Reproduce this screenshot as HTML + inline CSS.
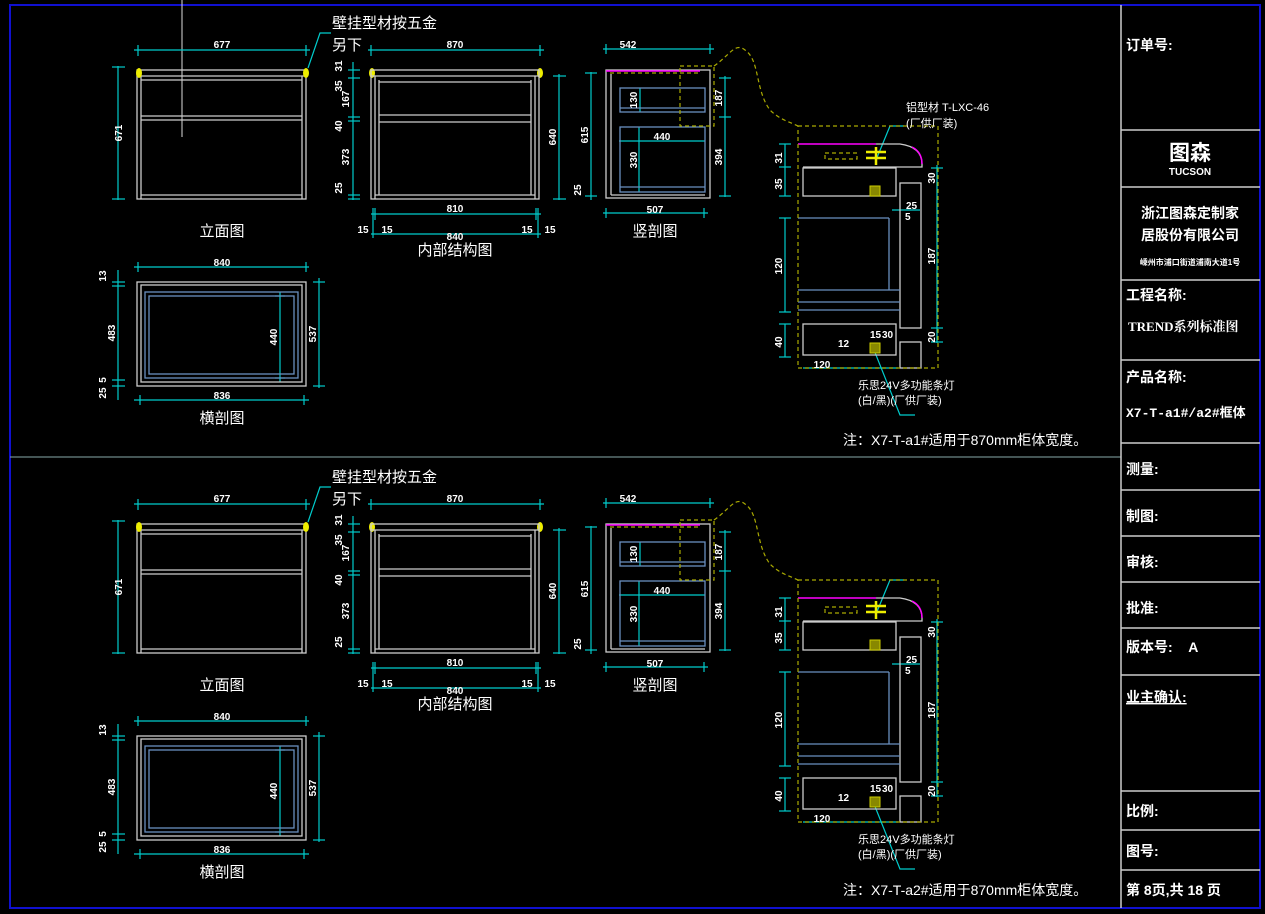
<!DOCTYPE html>
<html><head><meta charset="utf-8"><style>
html,body{margin:0;padding:0;background:#000;width:1265px;height:914px;overflow:hidden}
svg{display:block}
text{font-family:"Liberation Sans","Noto Sans CJK SC",sans-serif;fill:#fff}
.d{font-size:10px;font-weight:bold}
.t{font-size:15px}
.tb{font-size:14px;font-weight:bold}
</style></head><body>
<svg width="1265" height="914" viewBox="0 0 1265 914" xmlns="http://www.w3.org/2000/svg">
<rect x="10" y="5" width="1250" height="903" fill="none" stroke="#1010d0" stroke-width="2"/>
<line x1="182" y1="0" x2="182" y2="137" stroke="#ddd"/>
<line x1="10" y1="457" x2="1121" y2="457" stroke="#8aa"/>
<!-- title block -->
<g stroke="#ccc" stroke-width="1.5">
<line x1="1121" y1="5" x2="1121" y2="908"/>
<line x1="1121" y1="130" x2="1260" y2="130"/><line x1="1121" y1="187" x2="1260" y2="187"/>
<line x1="1121" y1="280" x2="1260" y2="280"/><line x1="1121" y1="360" x2="1260" y2="360"/>
<line x1="1121" y1="443" x2="1260" y2="443"/><line x1="1121" y1="490" x2="1260" y2="490"/>
<line x1="1121" y1="536" x2="1260" y2="536"/><line x1="1121" y1="582" x2="1260" y2="582"/>
<line x1="1121" y1="628" x2="1260" y2="628"/><line x1="1121" y1="675" x2="1260" y2="675"/>
<line x1="1121" y1="791" x2="1260" y2="791"/><line x1="1121" y1="830" x2="1260" y2="830"/>
<line x1="1121" y1="870" x2="1260" y2="870"/>
</g>
<g class="tb">
<text x="1126" y="50" class="tb">订单号:</text>
<text x="1190" y="160" text-anchor="middle" style="font-size:21px;font-weight:bold">图森</text>
<text x="1190" y="175" text-anchor="middle" style="font-size:10px;font-weight:bold">TUCSON</text>
<text x="1190" y="218" text-anchor="middle" class="tb">浙江图森定制家</text>
<text x="1190" y="240" text-anchor="middle" class="tb">居股份有限公司</text>
<text x="1190" y="265" text-anchor="middle" style="font-size:8px;font-weight:bold">嵊州市浦口街道浦南大道1号</text>
<text x="1126" y="300" style="font-size:14px">工程名称:</text>
<text x="1128" y="331" style="font-size:13px;font-family:'Liberation Serif','Noto Serif CJK SC',serif">TREND系列标准图</text>
<text x="1126" y="382" style="font-size:14px">产品名称:</text>
<text x="1126" y="417" style="font-size:13px;font-family:'Liberation Mono','Noto Sans CJK SC',monospace">X7-T-a1#/a2#框体</text>
<text x="1126" y="474" class="tb">测量:</text>
<text x="1126" y="521" class="tb">制图:</text>
<text x="1126" y="567" class="tb">审核:</text>
<text x="1126" y="613" class="tb">批准:</text>
<text x="1126" y="652" class="tb">版本号:&#160;&#160;&#160; A</text>
<text x="1126" y="702" class="tb" text-decoration="underline">业主确认:</text>
<text x="1126" y="816" class="tb">比例:</text>
<text x="1126" y="856" class="tb">图号:</text>
<text x="1126" y="895" class="tb">第 8页,共 18 页</text>
</g>

<defs>
<g id="S" fill="none">
<!-- elevation -->
<g stroke="#ccc" stroke-width="1.3">
<rect x="137" y="70" width="169" height="129"/><line x1="137" y1="76" x2="306" y2="76"/>
<line x1="141" y1="76" x2="141" y2="199"/><line x1="302" y1="76" x2="302" y2="199"/>
<line x1="141" y1="80" x2="302" y2="80"/><line x1="141" y1="116" x2="302" y2="116"/><line x1="141" y1="120" x2="302" y2="120"/><line x1="141" y1="195" x2="302" y2="195"/>
</g>
<g fill="#ee0"><ellipse cx="139" cy="73" rx="3" ry="5"/><ellipse cx="306" cy="73" rx="3" ry="5"/>
<ellipse cx="372" cy="73" rx="3" ry="5"/><ellipse cx="540" cy="73" rx="3" ry="5"/></g>
<g stroke="#0cc" stroke-width="1.2">
<line x1="134" y1="50" x2="310" y2="50"/><line x1="138" y1="45" x2="138" y2="56"/><line x1="306" y1="45" x2="306" y2="56"/>
<line x1="118" y1="66" x2="118" y2="200"/><line x1="112" y1="67" x2="125" y2="67"/><line x1="112" y1="199" x2="125" y2="199"/>
<polyline points="308,68 320,33 331,33"/>
<!-- internal -->
<line x1="368" y1="50" x2="544" y2="50"/><line x1="371" y1="45" x2="371" y2="56"/><line x1="540" y1="45" x2="540" y2="56"/>
<line x1="353" y1="62" x2="353" y2="200"/>
<line x1="348" y1="70" x2="360" y2="70"/><line x1="348" y1="78" x2="360" y2="78"/><line x1="348" y1="117" x2="360" y2="117"/><line x1="348" y1="121" x2="360" y2="121"/><line x1="348" y1="195" x2="360" y2="195"/><line x1="348" y1="199" x2="360" y2="199"/>
<line x1="559" y1="74" x2="559" y2="200"/><line x1="553" y1="76" x2="566" y2="76"/><line x1="553" y1="199" x2="566" y2="199"/>
<line x1="371" y1="214" x2="541" y2="214"/><line x1="375" y1="208" x2="375" y2="220"/><line x1="536" y1="208" x2="536" y2="220"/>
<line x1="371" y1="234" x2="541" y2="234"/><line x1="373" y1="208" x2="373" y2="238"/><line x1="538" y1="208" x2="538" y2="238"/>
<!-- vertical section -->
<line x1="603" y1="49" x2="714" y2="49"/><line x1="606" y1="44" x2="606" y2="54"/><line x1="710" y1="44" x2="710" y2="54"/>
<line x1="591" y1="72" x2="591" y2="200"/><line x1="585" y1="73" x2="597" y2="73"/><line x1="585" y1="196" x2="597" y2="196"/>
<line x1="725" y1="76" x2="725" y2="197"/><line x1="719" y1="78" x2="731" y2="78"/><line x1="719" y1="117" x2="731" y2="117"/><line x1="719" y1="196" x2="731" y2="196"/>
<line x1="603" y1="213" x2="708" y2="213"/><line x1="606" y1="208" x2="606" y2="218"/><line x1="704" y1="208" x2="704" y2="218"/>
<line x1="640" y1="88" x2="640" y2="112"/><line x1="639" y1="127" x2="639" y2="192"/><line x1="619" y1="141" x2="705" y2="141"/>
<!-- cross section -->
<line x1="134" y1="267" x2="309" y2="267"/><line x1="138" y1="262" x2="138" y2="272"/><line x1="306" y1="262" x2="306" y2="272"/>
<line x1="118" y1="270" x2="118" y2="400"/><line x1="112" y1="282" x2="125" y2="282"/><line x1="112" y1="286" x2="125" y2="286"/><line x1="112" y1="380" x2="125" y2="380"/><line x1="112" y1="386" x2="125" y2="386"/>
<line x1="319" y1="278" x2="319" y2="388"/><line x1="313" y1="282" x2="325" y2="282"/><line x1="313" y1="386" x2="325" y2="386"/>
<line x1="280" y1="292" x2="280" y2="382"/><line x1="275" y1="296" x2="285" y2="296"/><line x1="275" y1="378" x2="285" y2="378"/>
<line x1="134" y1="400" x2="309" y2="400"/><line x1="140" y1="395" x2="140" y2="405"/><line x1="304" y1="395" x2="304" y2="405"/>
<!-- detail -->
<line x1="785" y1="144" x2="785" y2="196"/><line x1="779" y1="144" x2="791" y2="144"/><line x1="779" y1="167" x2="791" y2="167"/><line x1="779" y1="196" x2="791" y2="196"/>
<line x1="785" y1="218" x2="785" y2="312"/><line x1="779" y1="218" x2="791" y2="218"/><line x1="779" y1="312" x2="791" y2="312"/>
<line x1="785" y1="324" x2="785" y2="357"/><line x1="779" y1="324" x2="791" y2="324"/><line x1="779" y1="357" x2="791" y2="357"/>
<line x1="937" y1="165" x2="937" y2="343"/><line x1="931" y1="168" x2="943" y2="168"/><line x1="931" y1="328" x2="943" y2="328"/><line x1="931" y1="342" x2="943" y2="342"/>
<line x1="892" y1="210" x2="920" y2="210"/><line x1="803" y1="368" x2="898" y2="368"/>
<polyline points="876,160 890,126 904,126"/><polyline points="874,350 900,415 915,415"/>
</g>
<!-- internal structure -->
<g stroke="#ccc" stroke-width="1.3">
<rect x="371" y="70" width="168" height="129"/><line x1="371" y1="76" x2="539" y2="76"/>
<line x1="375" y1="76" x2="375" y2="199"/><line x1="535" y1="76" x2="535" y2="199"/>
<line x1="379" y1="80" x2="379" y2="195"/><line x1="531" y1="80" x2="531" y2="195"/>
<line x1="379" y1="82" x2="531" y2="82"/><line x1="379" y1="115" x2="531" y2="115"/><line x1="379" y1="122" x2="531" y2="122"/><line x1="375" y1="195" x2="535" y2="195"/>
<!-- vertical section -->
<rect x="606" y="70" width="104" height="128"/><line x1="611" y1="74" x2="611" y2="195"/><line x1="611" y1="195" x2="705" y2="195"/>
<rect x="137" y="282" width="169" height="104"/><rect x="141" y="285" width="161" height="97"/>
<line x1="803" y1="167" x2="880" y2="167"/>
<path d="M876 144 L900 144 Q922 147 922 164 L922 167 L880 167"/>
<rect x="803" y="168" width="93" height="28"/><rect x="900" y="183" width="21" height="145"/>
<rect x="803" y="324" width="93" height="31"/><rect x="900" y="342" width="21" height="26"/>
</g>
<g stroke="#6a8fc0" stroke-width="1.3">
<rect x="620" y="88" width="85" height="24"/><line x1="620" y1="108" x2="705" y2="108"/>
<rect x="620" y="127" width="85" height="65"/><line x1="620" y1="187" x2="705" y2="187"/>
<rect x="145" y="292" width="153" height="86"/><rect x="149" y="296" width="145" height="78"/>
<line x1="798" y1="218" x2="889" y2="218"/><line x1="889" y1="218" x2="889" y2="290"/>
<line x1="798" y1="290" x2="900" y2="290"/><line x1="798" y1="302" x2="900" y2="302"/><line x1="798" y1="310" x2="900" y2="310"/>
</g>
<g stroke="#f0f" stroke-width="1.5"><line x1="606" y1="71" x2="700" y2="71"/><line x1="798" y1="144" x2="876" y2="144"/><path d="M912 147 Q922 152 922 164"/></g>
<g stroke="#aa0" stroke-width="1.2" stroke-dasharray="4,3">
<line x1="610" y1="73" x2="700" y2="73"/>
<rect x="680" y="66" width="34" height="60"/><rect x="798" y="126" width="140" height="242"/>
<path d="M714 66 C730 55 735 42 745 50 C760 60 755 90 770 110 C780 120 790 122 798 126"/>
<rect x="825" y="153" width="32" height="6"/>
</g>
<g stroke="#ee0" stroke-width="2.5"><line x1="876" y1="147" x2="876" y2="165"/><line x1="866" y1="152" x2="886" y2="152"/><line x1="866" y1="158" x2="886" y2="158"/></g>
<g fill="#880" stroke="#cc0"><rect x="870" y="186" width="10" height="10"/><rect x="870" y="343" width="10" height="10"/></g>
</g>
</defs>
<use href="#S"/>
<use href="#S" y="454"/>

<!-- top text -->
<g>
<text x="332" y="28" class="t">壁挂型材按五金</text><text x="332" y="50" class="t">另下</text>
<text x="222" y="48" class="d" text-anchor="middle">677</text>
<text x="455" y="48" class="d" text-anchor="middle">870</text>
<text x="628" y="48" class="d" text-anchor="middle">542</text>
<text x="455" y="212" class="d" text-anchor="middle">810</text>
<text x="455" y="240" class="d" text-anchor="middle">840</text>
<text x="363" y="233" class="d" text-anchor="middle">15</text><text x="387" y="233" class="d" text-anchor="middle">15</text>
<text x="527" y="233" class="d" text-anchor="middle">15</text><text x="550" y="233" class="d" text-anchor="middle">15</text>
<text x="655" y="213" class="d" text-anchor="middle">507</text>
<text x="662" y="140" class="d" text-anchor="middle">440</text>
<text x="222" y="266" class="d" text-anchor="middle">840</text>
<text x="222" y="399" class="d" text-anchor="middle">836</text>
<text x="222" y="236" class="t" text-anchor="middle">立面图</text>
<text x="455" y="255" class="t" text-anchor="middle">内部结构图</text>
<text x="655" y="236" class="t" text-anchor="middle">竖剖图</text>
<text x="222" y="423" class="t" text-anchor="middle">横剖图</text>
<text x="843" y="445" class="t" style="font-size:14px">注：X7-T-a1#适用于870mm柜体宽度。</text>
<text x="906" y="111" style="font-size:11px">铝型材 T-LXC-46</text>
<text x="906" y="127" style="font-size:11px">(厂供厂装)</text>
<text x="858" y="389" style="font-size:11px">乐思24V多功能条灯</text>
<text x="858" y="404" style="font-size:11px">(白/黑)(厂供厂装)</text>
<text x="906" y="209" class="d">25</text><text x="905" y="220" class="d">5</text>
<text x="870" y="338" class="d">15</text><text x="882" y="338" class="d">30</text>
<text x="838" y="347" class="d">12</text>
<text x="822" y="368" class="d" text-anchor="middle">120</text>
<g class="d" text-anchor="middle">
<text transform="translate(122,133) rotate(-90)">671</text>
<text transform="translate(342,66) rotate(-90)">31</text><text transform="translate(342,86) rotate(-90)">35</text>
<text transform="translate(349,99) rotate(-90)">167</text><text transform="translate(342,126) rotate(-90)">40</text>
<text transform="translate(349,157) rotate(-90)">373</text><text transform="translate(342,188) rotate(-90)">25</text>
<text transform="translate(556,137) rotate(-90)">640</text>
<text transform="translate(588,135) rotate(-90)">615</text><text transform="translate(581,190) rotate(-90)">25</text>
<text transform="translate(637,100) rotate(-90)">130</text><text transform="translate(637,160) rotate(-90)">330</text>
<text transform="translate(722,98) rotate(-90)">187</text><text transform="translate(722,157) rotate(-90)">394</text>
<text transform="translate(106,276) rotate(-90)">13</text><text transform="translate(115,333) rotate(-90)">483</text>
<text transform="translate(106,380) rotate(-90)">5</text><text transform="translate(106,393) rotate(-90)">25</text>
<text transform="translate(277,337) rotate(-90)">440</text><text transform="translate(316,334) rotate(-90)">537</text>
<text transform="translate(782,158) rotate(-90)">31</text><text transform="translate(782,184) rotate(-90)">35</text>
<text transform="translate(782,266) rotate(-90)">120</text><text transform="translate(782,342) rotate(-90)">40</text>
<text transform="translate(935,178) rotate(-90)">30</text><text transform="translate(935,256) rotate(-90)">187</text>
<text transform="translate(935,337) rotate(-90)">20</text>
</g>
</g>
<!-- bottom text -->
<g transform="translate(0,454)">
<text x="332" y="28" class="t">壁挂型材按五金</text><text x="332" y="50" class="t">另下</text>
<text x="222" y="48" class="d" text-anchor="middle">677</text>
<text x="455" y="48" class="d" text-anchor="middle">870</text>
<text x="628" y="48" class="d" text-anchor="middle">542</text>
<text x="455" y="212" class="d" text-anchor="middle">810</text>
<text x="455" y="240" class="d" text-anchor="middle">840</text>
<text x="363" y="233" class="d" text-anchor="middle">15</text><text x="387" y="233" class="d" text-anchor="middle">15</text>
<text x="527" y="233" class="d" text-anchor="middle">15</text><text x="550" y="233" class="d" text-anchor="middle">15</text>
<text x="655" y="213" class="d" text-anchor="middle">507</text>
<text x="662" y="140" class="d" text-anchor="middle">440</text>
<text x="222" y="266" class="d" text-anchor="middle">840</text>
<text x="222" y="399" class="d" text-anchor="middle">836</text>
<text x="222" y="236" class="t" text-anchor="middle">立面图</text>
<text x="455" y="255" class="t" text-anchor="middle">内部结构图</text>
<text x="655" y="236" class="t" text-anchor="middle">竖剖图</text>
<text x="222" y="423" class="t" text-anchor="middle">横剖图</text>
<text x="843" y="441" class="t" style="font-size:14px">注：X7-T-a2#适用于870mm柜体宽度。</text>
<text x="858" y="389" style="font-size:11px">乐思24V多功能条灯</text>
<text x="858" y="404" style="font-size:11px">(白/黑)(厂供厂装)</text>
<text x="906" y="209" class="d">25</text><text x="905" y="220" class="d">5</text>
<text x="870" y="338" class="d">15</text><text x="882" y="338" class="d">30</text>
<text x="838" y="347" class="d">12</text>
<text x="822" y="368" class="d" text-anchor="middle">120</text>
<g class="d" text-anchor="middle">
<text transform="translate(122,133) rotate(-90)">671</text>
<text transform="translate(342,66) rotate(-90)">31</text><text transform="translate(342,86) rotate(-90)">35</text>
<text transform="translate(349,99) rotate(-90)">167</text><text transform="translate(342,126) rotate(-90)">40</text>
<text transform="translate(349,157) rotate(-90)">373</text><text transform="translate(342,188) rotate(-90)">25</text>
<text transform="translate(556,137) rotate(-90)">640</text>
<text transform="translate(588,135) rotate(-90)">615</text><text transform="translate(581,190) rotate(-90)">25</text>
<text transform="translate(637,100) rotate(-90)">130</text><text transform="translate(637,160) rotate(-90)">330</text>
<text transform="translate(722,98) rotate(-90)">187</text><text transform="translate(722,157) rotate(-90)">394</text>
<text transform="translate(106,276) rotate(-90)">13</text><text transform="translate(115,333) rotate(-90)">483</text>
<text transform="translate(106,380) rotate(-90)">5</text><text transform="translate(106,393) rotate(-90)">25</text>
<text transform="translate(277,337) rotate(-90)">440</text><text transform="translate(316,334) rotate(-90)">537</text>
<text transform="translate(782,158) rotate(-90)">31</text><text transform="translate(782,184) rotate(-90)">35</text>
<text transform="translate(782,266) rotate(-90)">120</text><text transform="translate(782,342) rotate(-90)">40</text>
<text transform="translate(935,178) rotate(-90)">30</text><text transform="translate(935,256) rotate(-90)">187</text>
<text transform="translate(935,337) rotate(-90)">20</text>
</g>
</g>
</svg>
</body></html>
